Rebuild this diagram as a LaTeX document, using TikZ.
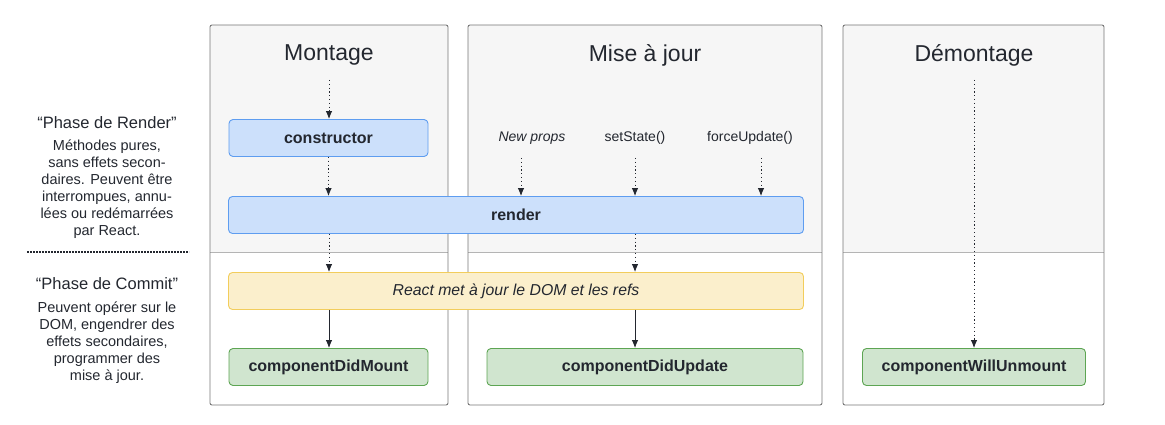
\documentclass[tikz,border=0pt]{standalone}
\usepackage{fontspec}
\setmainfont{Liberation Sans}
\usepackage{xcolor}
\usetikzlibrary{arrows.meta}

\definecolor{ink}{HTML}{23272F}
\definecolor{panelgray}{HTML}{F6F6F6}
\definecolor{panelline}{HTML}{767676}
\definecolor{splitline}{HTML}{B4B4B4}
\definecolor{renderfill}{HTML}{CCE0FB}
\definecolor{renderline}{HTML}{5E9DF0}
\definecolor{commitfill}{HTML}{FBEFCC}
\definecolor{commitline}{HTML}{F2CD5C}
\definecolor{didfill}{HTML}{D0E5CF}
\definecolor{didline}{HTML}{5DA553}

\begin{document}
\begin{tikzpicture}[x=1pt,y=-1pt]
        \tikzstyle{every node} = [text=ink, inner sep=0pt]
        \tikzstyle{title} = [font=\fontsize{23}{27}\selectfont]
        \tikzstyle{trigger} = [font=\fontsize{14}{17}\selectfont]
        \tikzstyle{phase} = [font=\fontsize{16.5}{20}\selectfont]
        \tikzstyle{phasetext} = [font=\fontsize{14.5}{17}\selectfont, align=center]
        \tikzstyle{box} = [rounded corners=4pt, line width=0.9pt, minimum height=37pt]
        \tikzstyle{renderbox} = [box, draw=renderline, fill=renderfill, font=\fontsize{16}{19}\selectfont\bfseries]
        \tikzstyle{commitbox} = [box, draw=commitline, fill=commitfill, font=\fontsize{15.8}{18}\selectfont\itshape]
        \tikzstyle{didbox} = [box, draw=didline, fill=didfill, font=\fontsize{16}{19}\selectfont\bfseries]
        \tikzstyle{flow} = [draw=ink, line width=0.9pt, -{Latex[length=8pt,width=6.5pt]}]
        \tikzstyle{maybe} = [flow, dash pattern=on 1.2pt off 2.6pt]

        \useasboundingbox (0,0) rectangle (1165,425);

        % columns
        \foreach \l/\r in {210/448, 468/822, 843/1104} {
            \fill[panelgray, rounded corners=2pt] (\l,25) rectangle (\r,252);
            \draw[splitline, line width=0.8pt] (\l,252) -- (\r,252);
            \draw[panelline, line width=0.9pt, rounded corners=2pt] (\l,25) rectangle (\r,405);
        }

        \node[title] (tmount) at (329,55) {Montage};
        \node[title] (tupdate) at (645,55) {Mise à jour};
        \node[title] (tunmount) at (974,55) {Démontage};

        \node[trigger, font=\fontsize{14}{17}\selectfont\itshape] (newprops) at (532,138) {New props};
        \node[trigger] (setstate) at (635,138) {setState()};
        \node[trigger] (forceupdate) at (750,138) {forceUpdate()};

        \coordinate (smount) at (329,80);
        \coordinate (sunmount) at (974,80);
        \coordinate (pnew) at (521,158);
        \coordinate (pstate) at (635,158);
        \coordinate (pforce) at (761,158);

        % lifecycle methods
        \node[renderbox, minimum width=199pt] (constructor) at (328.5,138) {constructor};
        \node[renderbox, minimum width=575pt] (render) at (516,215) {render};
        \node[commitbox, minimum width=575pt] (dom) at (516,291) {React met à jour le DOM et les refs};
        \node[didbox, minimum width=199pt] (didmount) at (328.5,367) {componentDidMount};
        \node[didbox, minimum width=316pt] (didupdate) at (645,367) {componentDidUpdate};
        \node[didbox, minimum width=223pt] (willunmount) at (974,367) {componentWillUnmount};

        \foreach \from/\to in {smount/constructor, constructor/render, pnew/render,
        pstate/render, pforce/render, sunmount/willunmount}
            \draw[maybe] (\from) -- (\from |- \to.north);
        \foreach \x in {329, 635}
            \draw[maybe] (\x,0 |- render.south) -- (\x,0 |- dom.north);
        \foreach \x/\to in {329/didmount, 635/didupdate}
            \draw[flow] (\x,0 |- dom.south) -- (\x,0 |- \to.north);

        % phases
        \node[phase] (renderphase) at (107,123) {“Phase de Render”};
        \node[phasetext] (renderdesc) at (107,189) {Méthodes pures,\\ sans effets secon-\\ daires. Peuvent être\\ interrompues, annu-\\ lées ou redémarrées\\ par React.};
        \draw[ink, line width=1.6pt, dash pattern=on 1.6pt off 1.4pt] (27,252) -- (189,252);
        \node[phase] (commitphase) at (107,284) {“Phase de Commit”};
        \node[phasetext] (commitdesc) at (107,342.5) {Peuvent opérer sur le\\ DOM, engendrer des\\ effets secondaires,\\ programmer des\\ mise à jour.};
    \end{tikzpicture}
\end{document}
